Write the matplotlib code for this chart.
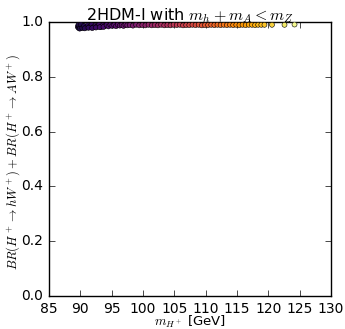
import matplotlib
matplotlib.use("Agg")
import matplotlib.pyplot as plt

plt.style.use("classic")
plt.rcParams["mathtext.fontset"] = "cm"
plt.rcParams["font.family"] = "DejaVu Sans"

mass = [89.6, 89.7, 89.8, 89.9, 90.0, 90.1, 90.2, 90.3, 90.4, 89.7, 89.9, 90.1, 90.3,
        90.6, 90.9, 91.2, 91.5, 91.8, 92.1, 92.4, 92.7, 93.0, 93.3, 93.6, 93.9,
        90.7, 91.3, 91.9, 92.5, 93.1, 93.7,
        94.2, 94.5, 94.8, 95.1, 95.4, 95.7, 96.0, 96.3, 96.6, 96.9, 97.2, 97.5,
        97.9, 98.4, 98.9, 99.4, 99.9, 100.4, 100.9, 101.4, 101.9, 102.4,
        102.9, 103.4, 103.9, 104.4, 104.9, 105.4, 105.9, 106.4, 106.9, 107.4,
        107.9, 108.4, 108.9, 109.4, 109.9, 110.4, 110.9, 111.4, 111.9, 112.4,
        112.9, 113.4, 113.9, 114.4, 114.9, 115.4, 115.9, 116.4, 116.9, 117.4,
        117.9, 118.4, 118.9, 119.4, 120.6, 122.6, 124.2]
br = [0.983, 0.979, 0.986, 0.981, 0.988, 0.980, 0.985, 0.989, 0.982, 0.990, 0.976, 0.991, 0.978,
      0.986, 0.980, 0.988, 0.983, 0.990, 0.981, 0.987, 0.984, 0.990, 0.982, 0.988, 0.985,
      0.977, 0.979, 0.978, 0.980, 0.981, 0.982,
      0.989, 0.984, 0.990, 0.986, 0.989, 0.985, 0.990, 0.987, 0.989, 0.986, 0.990, 0.988,
      0.989, 0.987, 0.990, 0.988, 0.989, 0.988, 0.990, 0.988, 0.989, 0.988,
      0.990, 0.988, 0.989, 0.988, 0.990, 0.989, 0.990, 0.988, 0.989, 0.989,
      0.990, 0.989, 0.990, 0.988, 0.989, 0.989, 0.990, 0.989, 0.990, 0.989,
      0.990, 0.989, 0.990, 0.989, 0.990, 0.989, 0.990, 0.989, 0.990, 0.990,
      0.989, 0.990, 0.990, 0.990, 0.990, 0.990, 0.991]

x_ticks = [85, 90, 95, 100, 105, 110, 115, 120, 125, 130]
y_ticks = [0.0, 0.2, 0.4, 0.6, 0.8, 1.0]

fig = plt.figure(figsize=(3.45, 3.29), dpi=100, facecolor="white")
ax = fig.add_axes([0.142, 0.100, 0.817, 0.833])
ax.scatter(mass, br, c=mass, cmap="inferno", s=13, edgecolors="black", linewidths=0.4,
           vmin=85, vmax=125, zorder=3)
ax.set_xlim(85, 130)
ax.set_ylim(0.0, 1.0)
ax.set_xticks(x_ticks)
ax.set_yticks(y_ticks)
ax.set_xticklabels([str(t) for t in x_ticks], fontsize=10)
ax.set_yticklabels(["%.1f" % t for t in y_ticks], fontsize=10)
ax.set_xlabel(r"$m_{H^+}$ [GeV]", fontsize=9.5)
ax.set_ylabel(r"$BR(H^+ \to hW^+) + BR(H^+ \to AW^+)$", fontsize=9)
ax.xaxis.set_label_coords(0.5, -0.066)
ax.yaxis.set_label_coords(-0.096, 0.49)
ax.set_title(r"2HDM-I with $m_h + m_A < m_Z$", fontsize=11.5, pad=1)
fig.savefig("out.png", dpi=100, facecolor="white")
